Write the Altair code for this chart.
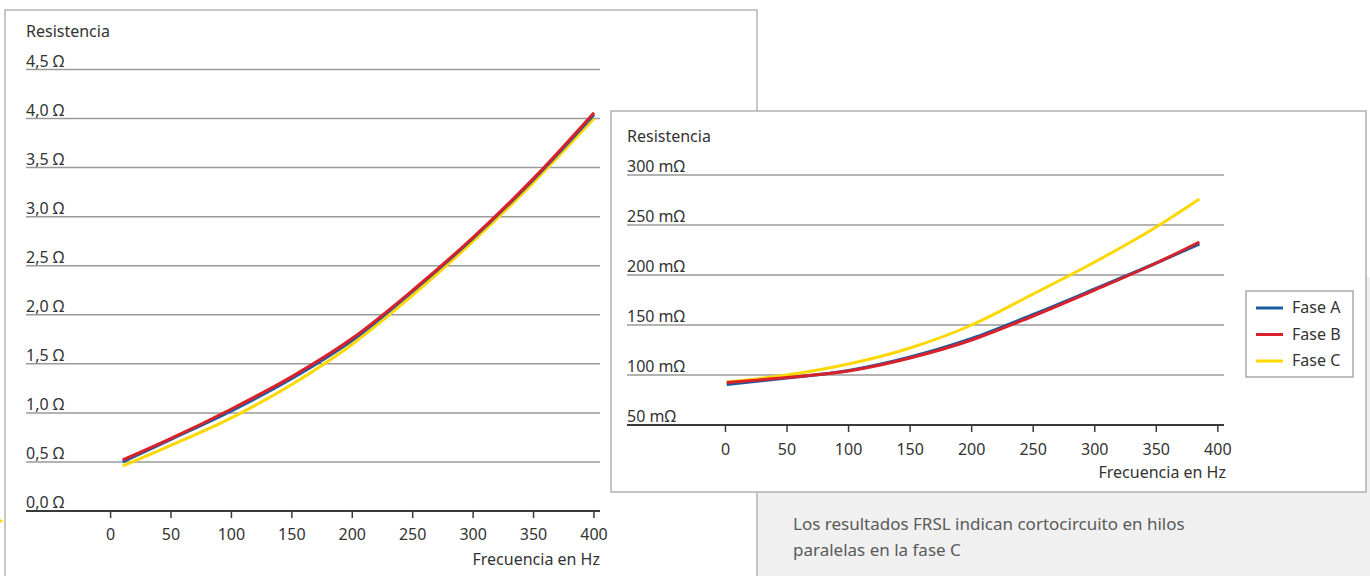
import altair as alt
import pandas as pd

# ---------------- data ----------------
series = ["Fase A", "Fase B", "Fase C"]
colors = ["#1b5c9e", "#d9212c", "#ffd800"]

left_freq = [10, 50, 100, 150, 200, 250, 300, 350, 400]
left_a = [0.50, 0.73, 1.02, 1.35, 1.74, 2.24, 2.78, 3.38, 4.04]
left_b = [0.52, 0.74, 1.04, 1.37, 1.76, 2.25, 2.79, 3.39, 4.06]
left_c = [0.46, 0.67, 0.95, 1.29, 1.70, 2.20, 2.75, 3.35, 4.00]
left_yticks = [0.0, 0.5, 1.0, 1.5, 2.0, 2.5, 3.0, 3.5, 4.0, 4.5]
left_ylabels = ["0,0 Ω", "0,5 Ω", "1,0 Ω", "1,5 Ω", "2,0 Ω", "2,5 Ω", "3,0 Ω", "3,5 Ω", "4,0 Ω", "4,5 Ω"]
left_xticks = [0, 50, 100, 150, 200, 250, 300, 350, 400]

right_freq = [1, 50, 100, 150, 200, 250, 300, 350, 385]
right_a = [90.5, 97, 104.5, 118, 136.5, 160.5, 186, 212, 231]
right_b = [92.5, 97.5, 104, 117, 135, 159, 185, 212, 233]
right_c = [93, 100, 111, 127, 150, 181, 213, 248, 276]
right_yticks = [50, 100, 150, 200, 250, 300]
right_ylabels = ["50 mΩ", "100 mΩ", "150 mΩ", "200 mΩ", "250 mΩ", "300 mΩ"]
right_xticks = [0, 50, 100, 150, 200, 250, 300, 350, 400]

y_title = "Resistencia"
x_title = "Frecuencia en Hz"
note_lines = ["Los resultados FRSL indican cortocircuito en hilos", "paralelas en la fase C"]

FONT = "Noto Sans"
TXT = "#333333"
GRID = "#9a9a9a"
AXIS = "#3a3a3a"

# ---------------- scales (pixel ranges on one canvas) ----------------
LX = alt.Scale(domain=[-70, 405], range=[26, 600], nice=False, zero=False)
LY = alt.Scale(domain=[0, 4.5], range=[511, 69.5], nice=False, zero=False)
RX = alt.Scale(domain=[-80, 405], range=[627, 1224], nice=False, zero=False)
RY = alt.Scale(domain=[50, 300], range=[425, 175], nice=False, zero=False)

layers = []

# background decorations
bg = pd.DataFrame({"k": [0]})
layers.append(alt.Chart(bg).mark_rect(fill="#f0f0f0").encode(
    x=alt.value(757), x2=alt.value(1370), y=alt.value(277), y2=alt.value(576)))
layers.append(alt.Chart(bg).mark_rect(fill="white", stroke="#b5b5b5", strokeWidth=1.5).encode(
    x=alt.value(5), x2=alt.value(757), y=alt.value(10), y2=alt.value(590)))
layers.append(alt.Chart(bg).mark_point(shape="triangle-right", filled=True, color="#ffd800",
                                        size=30, opacity=1).encode(
    x=alt.value(1), y=alt.value(521)))


def panel(xscale, yscale, yt, yl, xt, x0, x1, y_axis_px, tick_lab_y, xtitle_y, xtitle_x, ytitle_y,
          freq, a, b, c):
    out = []
    ydf = pd.DataFrame({"v": yt, "lab": yl})
    grid_df = ydf.iloc[1:]
    out.append(alt.Chart(grid_df).mark_rule(color=GRID, strokeWidth=1.5).encode(
        y=alt.Y("v:Q", scale=yscale, axis=None), x=alt.value(x0), x2=alt.value(x1)))
    out.append(alt.Chart(ydf.iloc[:1]).mark_rule(color=AXIS, strokeWidth=2).encode(
        y=alt.Y("v:Q", scale=yscale, axis=None), x=alt.value(x0), x2=alt.value(x1)))
    out.append(alt.Chart(ydf).mark_text(font=FONT, fontSize=16, color=TXT, align="left",
                                        baseline="alphabetic", dy=-3).encode(
        y=alt.Y("v:Q", scale=yscale, axis=None), x=alt.value(x0), text="lab:N"))
    xdf = pd.DataFrame({"f": xt})
    out.append(alt.Chart(xdf).mark_rule(color=AXIS, strokeWidth=1.5).encode(
        x=alt.X("f:Q", scale=xscale, axis=None), y=alt.value(y_axis_px), y2=alt.value(y_axis_px + 7)))
    out.append(alt.Chart(xdf).mark_text(font=FONT, fontSize=16, color=TXT, align="center",
                                        baseline="middle").encode(
        x=alt.X("f:Q", scale=xscale, axis=None), y=alt.value(tick_lab_y), text=alt.Text("f:Q", format="d")))
    out.append(alt.Chart(pd.DataFrame({"t": [x_title]})).mark_text(
        font=FONT, fontSize=16, color=TXT, align="right", baseline="middle").encode(
        x=alt.value(xtitle_x), y=alt.value(xtitle_y), text="t:N"))
    out.append(alt.Chart(pd.DataFrame({"t": [y_title]})).mark_text(
        font=FONT, fontSize=16, color=TXT, align="left", baseline="middle").encode(
        x=alt.value(x0), y=alt.value(ytitle_y), text="t:N"))
    for vals, col in [(c, colors[2]), (a, colors[0]), (b, colors[1])]:
        df = pd.DataFrame({"f": freq, "r": vals})
        out.append(alt.Chart(df).mark_line(color=col, strokeWidth=3, interpolate="monotone").encode(
            x=alt.X("f:Q", scale=xscale, axis=None), y=alt.Y("r:Q", scale=yscale, axis=None)))
    return out


layers += panel(LX, LY, left_yticks, left_ylabels, left_xticks, 26, 600, 511, 535, 560, 600, 32,
                left_freq, left_a, left_b, left_c)

# right panel frame
layers.append(alt.Chart(bg).mark_rect(fill="white", stroke="#b0b0b0", strokeWidth=1.5).encode(
    x=alt.value(611), x2=alt.value(1366), y=alt.value(111), y2=alt.value(492)))

layers += panel(RX, RY, right_yticks, right_ylabels, right_xticks, 627, 1224, 425, 450, 473, 1226, 137,
                right_freq, right_a, right_b, right_c)

# legend (manual)
layers.append(alt.Chart(bg).mark_rect(fill="white", stroke="#aaaaaa", strokeWidth=1.5).encode(
    x=alt.value(1246), x2=alt.value(1353), y=alt.value(291), y2=alt.value(377)))
leg = pd.DataFrame({"s": series, "c": colors})
LEGY = alt.Scale(domain=series, range=[308, 361], type="point", padding=0)
layers.append(alt.Chart(leg).mark_rule(strokeWidth=3).encode(
    y=alt.Y("s:N", scale=LEGY, axis=None), x=alt.value(1256), x2=alt.value(1283),
    color=alt.Color("c:N", scale=None)))
layers.append(alt.Chart(leg).mark_text(font=FONT, fontSize=16, color=TXT, align="left",
                                       baseline="middle").encode(
    y=alt.Y("s:N", scale=LEGY, axis=None), x=alt.value(1292), text="s:N"))

# note text
note = pd.DataFrame({"t": note_lines, "i": [0, 1]})
layers.append(alt.Chart(note).mark_text(font=FONT, fontSize=17, color="#5a5a5a", align="left",
                                        baseline="middle").encode(
    y=alt.Y("i:O", scale=alt.Scale(domain=[0, 1], range=[525, 551], type="point", padding=0), axis=None),
    x=alt.value(793), text="t:N"))

chart = alt.layer(*layers).resolve_scale(x="independent", y="independent", color="independent").properties(
    width=1370, height=576, padding=0, autosize=alt.AutoSizeParams(type="none"),
    background="white").configure_view(stroke=None)

chart.save("out.html", embed_options={"renderer": "svg", "actions": False})
